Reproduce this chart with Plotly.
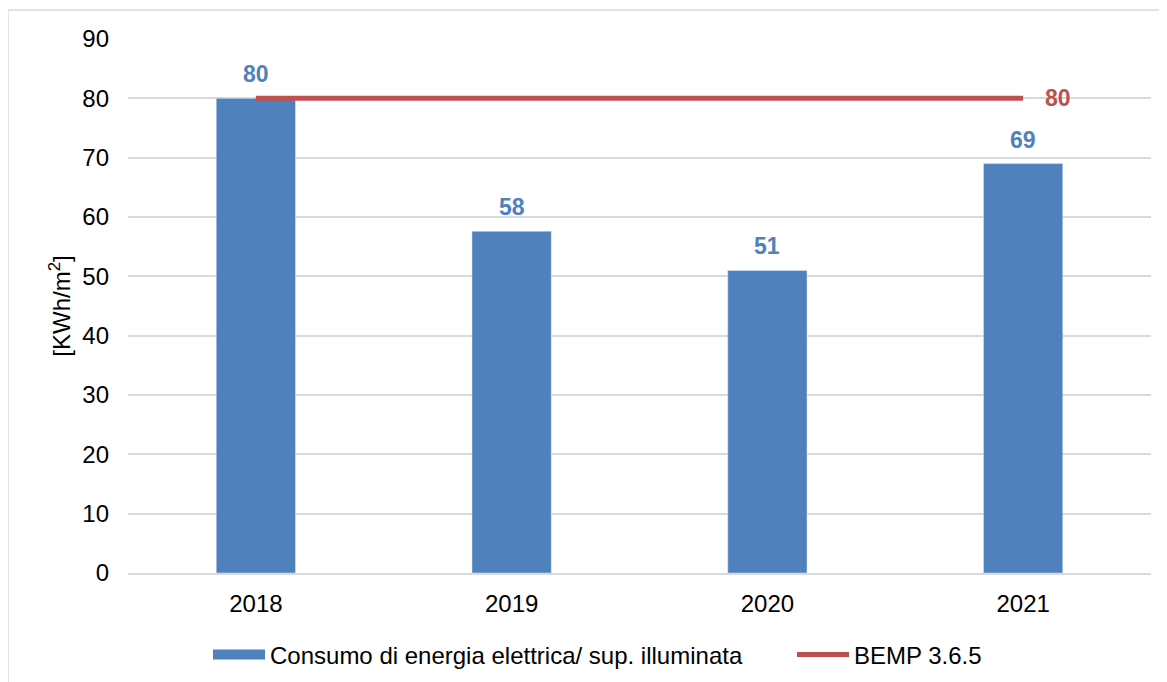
import plotly.graph_objects as go

years = ["2018", "2019", "2020", "2021"]
consumo = [80, 57.6, 51, 69]
bemp = [80, 80, 80, 80]
bar_name = "Consumo di energia elettrica/ sup. illuminata"
line_name = "BEMP 3.6.5"

BLUE = "#4F81BD"
RED = "#C0504D"
FONT = "Liberation Sans, Arial, sans-serif"
FS = 24

# plot-area geometry (figure pixels)
L, T, W, H = 120, 31, 1023, 534
FW, FH = 1167, 682

fig = go.Figure()
fig.add_trace(go.Bar(
    x=years, y=consumo, name=bar_name, marker_color=BLUE, width=0.31,
    showlegend=False,
))
# legend proxy for the bars (wide swatch as in the reference)
fig.add_trace(go.Scatter(
    x=[years[0]], y=[None], mode="lines", name=bar_name,
    line=dict(color=BLUE, width=13), legend="legend",
))
fig.add_trace(go.Scatter(
    x=years, y=bemp, name=line_name, mode="lines",
    line=dict(color=RED, width=5), cliponaxis=False, legend="legend2",
))

annotations = []
for i, v in enumerate(consumo):
    annotations.append(dict(
        x=i, y=v, xref="x", yref="y", text=f"{v:.0f}", showarrow=False,
        yanchor="bottom", yshift=9,
        font=dict(color=BLUE, size=FS - 1, family=FONT, weight="bold"),
    ))
annotations.append(dict(
    x=len(years) - 1, y=bemp[-1], xref="x", yref="y", text=f"{bemp[-1]:.0f}",
    showarrow=False, xanchor="left", xshift=20,
    font=dict(color=RED, size=FS - 1, family=FONT, weight="bold"),
))

legend_common = dict(orientation="h", xref="container", yref="container",
                     xanchor="left", y=1 - 647 / FH, yanchor="middle",
                     font=dict(size=FS), itemwidth=52, bgcolor="rgba(0,0,0,0)")

fig.update_layout(
    width=FW, height=FH,
    margin=dict(l=L, r=FW - L - W, t=T, b=FH - T - H),
    paper_bgcolor="white", plot_bgcolor="white",
    font=dict(family=FONT, size=FS, color="#000000"),
    bargap=0.69,
    showlegend=True,
    legend=dict(x=200 / FW, **legend_common),
    legend2=dict(x=784 / FW, **legend_common),
    xaxis=dict(type="category", range=[-0.5, len(years) - 0.5], showgrid=False,
               showline=True, linecolor="#D9D9D9",
               linewidth=1.5, ticks="", tickfont=dict(size=FS), ticklabelstandoff=8,
               automargin=False),
    yaxis=dict(range=[0, 90], dtick=10, showgrid=True, gridcolor="#D9D9D9", gridwidth=1.5,
               zeroline=False, showline=False, ticks="", ticklabelstandoff=18,
               tickfont=dict(size=FS), automargin=False,
               title=dict(text="[KWh/m<sup>2</sup>]", font=dict(size=FS), standoff=4)),
    annotations=annotations,
    shapes=[dict(type="rect", xref="paper", yref="paper",
                 x0=(0 - L) / W, x1=(FW + 20 - L) / W,
                 y0=(T + H - FH - 20) / H, y1=(T + H - 2) / H,
                 line=dict(color="#D9D9D9", width=1.5), layer="below")],
)

fig.write_html("out.html")
